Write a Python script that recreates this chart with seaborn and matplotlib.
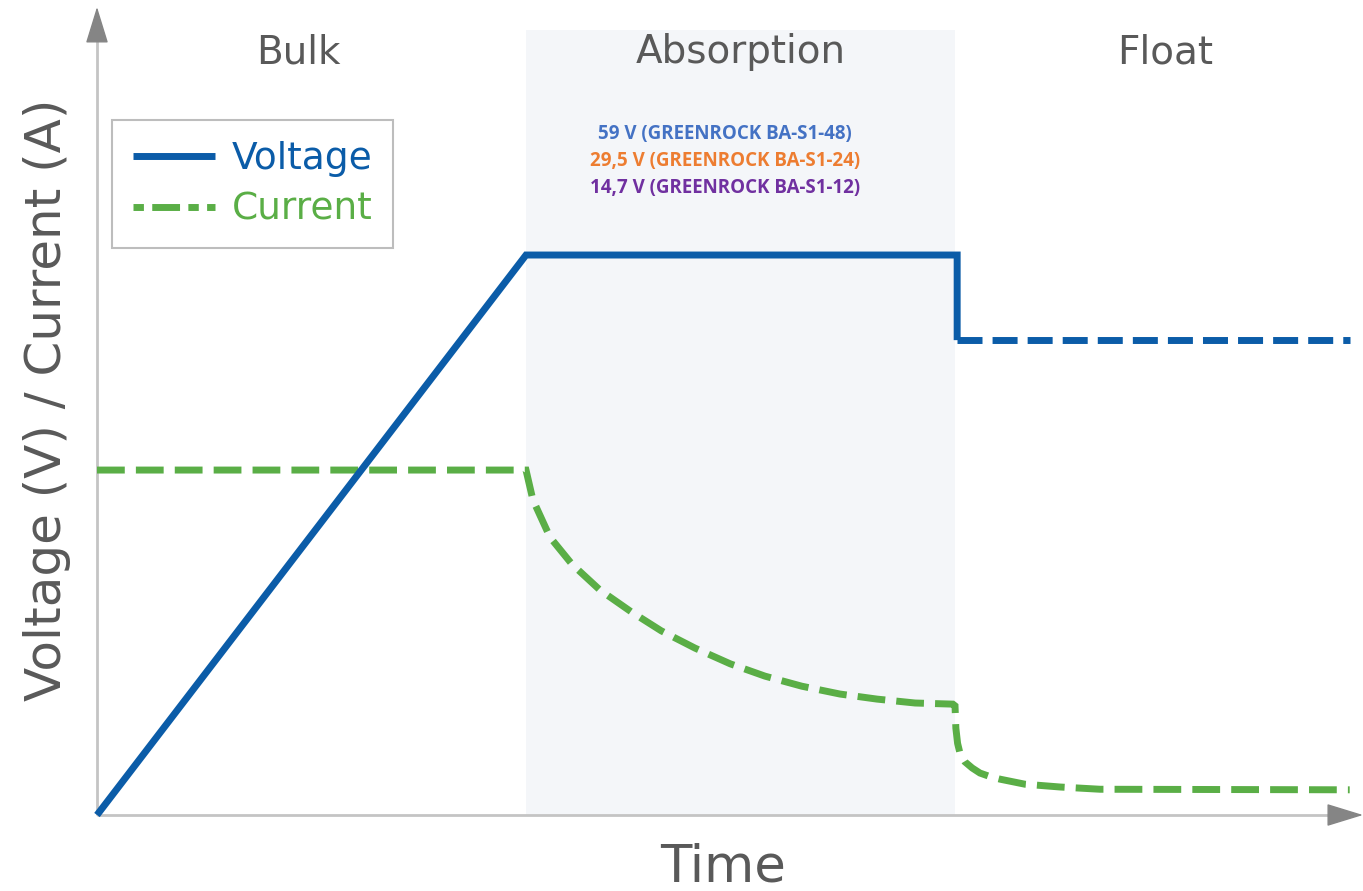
import numpy as np
import pandas as pd
import matplotlib.pyplot as plt
import seaborn as sns

sns.set_style('white')
plt.rcParams['font.family'] = ['DejaVu Sans']

# Phases of the charge cycle (time in arbitrary units)
phase_names = ['Bulk', 'Absorption', 'Float']
phase_edges = [0.0, 1.0, 2.0, 2.92]
phase_label_x = [0.47, 1.5, 2.49]

# Voltage (relative units, absorption level = 100)
volt_t = [0.0, 1.0, 2.005, 2.005]
volt_v = [0.0, 100.0, 100.0, 84.8]
float_t = [2.005, 2.92]
float_v = [84.8, 84.8]

# Current (relative units)
curr_t = [0.0, 1.0, 1.016, 1.056, 1.107, 1.172, 1.245, 1.315, 1.394, 1.476,
          1.557, 1.643, 1.732, 1.818, 1.907, 1.995, 2.0, 2.002, 2.006, 2.012,
          2.023, 2.04, 2.058, 2.08, 2.105, 2.163, 2.245, 2.338, 2.92]
curr_i = [61.6, 61.6, 56.3, 49.6, 44.8, 40.2, 36.3, 32.9, 29.8, 27.0,
          24.8, 23.0, 21.6, 20.7, 20.0, 19.8, 19.5, 15.5, 12.8, 10.9,
          9.5, 8.4, 7.5, 6.9, 6.4, 5.5, 5.0, 4.6, 4.5]

notes = ['59 V (GREENROCK BA-S1-48)',
         '29,5 V (GREENROCK BA-S1-24)',
         '14,7 V (GREENROCK BA-S1-12)']
note_colors = ['#4472C4', '#ED7D31', '#7030A0']

blue = '#0B5CA8'
green = '#5AAE46'
gray = '#595959'

fig = plt.figure(figsize=(13.63, 8.91), dpi=100)
ax = fig.add_axes([0, 0, 1, 1])
ax.set_xlim(-0.2261, 2.951)
ax.set_ylim(-13.57, 145.54)
ax.axis('off')

# absorption shading
ax.fill_between([phase_edges[1], phase_edges[2]], 0, 140.2, color='#F4F6F9', zorder=0, lw=0)

for name, px in zip(phase_names, phase_label_x):
    ax.text(px, 136.25, name, ha='center', va='center', fontsize=28, color=gray)

# axes with arrow heads
ax.plot([0, 0], [0, 140], color='#C4C4C4', lw=2, zorder=1, solid_capstyle='butt')
ax.plot([0, 2.92], [0, 0], color='#C4C4C4', lw=2, zorder=1, solid_capstyle='butt')
ax.annotate('', xy=(0, 144.3), xytext=(0, 139.5),
            arrowprops=dict(arrowstyle='-|>,head_length=1.3,head_width=0.4', color='#858585',
                            lw=1, shrinkA=0, shrinkB=0, mutation_scale=18), zorder=1)
ax.annotate('', xy=(2.951, 0), xytext=(2.9, 0),
            arrowprops=dict(arrowstyle='-|>,head_length=1.3,head_width=0.4', color='#858585',
                            lw=1, shrinkA=0, shrinkB=0, mutation_scale=18), zorder=1)

volt_df = pd.DataFrame({'t': volt_t, 'v': volt_v})
float_df = pd.DataFrame({'t': float_t, 'v': float_v})
curr_df = pd.DataFrame({'t': curr_t, 'i': curr_i})

sns.lineplot(data=curr_df, x='t', y='i', sort=False, estimator=None, color=green,
             linewidth=5, ax=ax, label='Current', zorder=3)
cur_line = ax.lines[-1]
cur_line.set_dashes((4.0, 1.6))
cur_line.set_dash_capstyle('butt')
cur_line.set_dash_joinstyle('miter')

sns.lineplot(data=volt_df, x='t', y='v', sort=False, estimator=None, color=blue,
             linewidth=5, ax=ax, label='Voltage', zorder=4)
volt_line = ax.lines[-1]
volt_line.set_solid_joinstyle('miter')
volt_line.set_solid_capstyle('butt')

sns.lineplot(data=float_df, x='t', y='v', sort=False, estimator=None, color=blue,
             linewidth=5, ax=ax, zorder=4)
fl = ax.lines[-1]
fl.set_dashes((3.6, 1.45))
fl.set_dash_capstyle('butt')

for k, (txt, c) in enumerate(zip(notes, note_colors)):
    ax.text(1.464, 121.6 - k * 4.8, txt, ha='center', va='center', fontsize=13.5,
            fontweight='bold', color=c, family=['Open Sans', 'DejaVu Sans'])

handles, labels = ax.get_legend_handles_labels()
order = [labels.index('Voltage'), labels.index('Current')]
leg = ax.legend([handles[i] for i in order], [labels[i] for i in order],
                loc='upper left', bbox_to_anchor=(112 / 1363, 1 - 120 / 891),
                borderaxespad=0, fontsize=27, frameon=True, fancybox=False,
                framealpha=1, edgecolor='#BDBDBD', handlelength=2.2,
                handletextpad=0.45, borderpad=0.55, labelspacing=0.4,
                labelcolor='linecolor')
leg.get_frame().set_linewidth(1.5)
leg.get_lines()[1].set_dashes((1.5, 1.2, 4.0, 1.2))

fig.text(723 / 1363, 1 - 867 / 891, 'Time', ha='center', va='center', fontsize=37, color=gray)
fig.text(47 / 1363, 1 - 400 / 891, 'Voltage (V) / Current (A)', ha='center', va='center',
         rotation=90, fontsize=36, color=gray)

fig.savefig('out.png', dpi=100)
